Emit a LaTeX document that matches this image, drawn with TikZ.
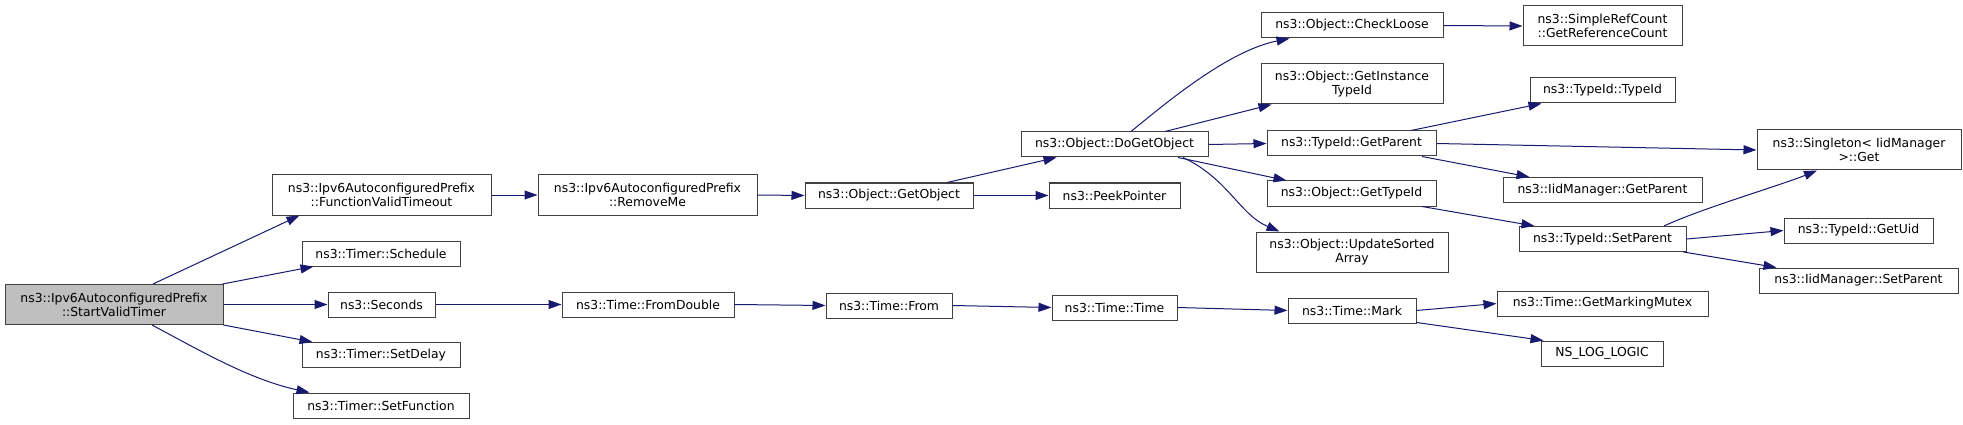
\documentclass[tikz,border=0pt]{standalone}
\usepackage{fontspec}
\setmainfont{DejaVu Sans}
\usetikzlibrary{arrows.meta}
\definecolor{edgec}{HTML}{191970}
\definecolor{bord}{HTML}{404040}
\definecolor{rootfill}{HTML}{BFBFBF}
\begin{document}
\begin{tikzpicture}[x=1pt,y=-1pt,
  box/.style={draw=bord, line width=1pt, fill=white, inner sep=0pt, align=center,
    font=\fontsize{12.4}{14}\selectfont, text=black, minimum height=25pt},
  tall/.style={minimum height=40pt},
  rootbox/.style={box, fill=rootfill},
  call/.style={draw=edgec, line width=1pt, -{Triangle[length=13pt,width=9pt]}}]
\fill[white] (0,0) rectangle (1963,425);
\useasboundingbox (0,0) rectangle (1963,425);

% column 0
\node[rootbox, tall, minimum width=218pt] (root) at (114,304.5) {ns3::Ipv6AutoconfiguredPrefix\\::StartValidTimer};
% column 1
\node[box, tall, minimum width=219pt] (fvt) at (381.5,195) {ns3::Ipv6AutoconfiguredPrefix\\::FunctionValidTimeout};
\node[box, minimum width=158pt] (sched) at (381,253.5) {ns3::Timer::Schedule};
\node[box, minimum width=107pt] (seconds) at (381.5,304.5) {ns3::Seconds};
\node[box, minimum width=158pt] (setdelay) at (381,355) {ns3::Timer::SetDelay};
\node[box, minimum width=176pt] (setfunc) at (381,405.5) {ns3::Timer::SetFunction};
% column 2
\node[box, tall, minimum width=219pt] (removeme) at (647.5,195) {ns3::Ipv6AutoconfiguredPrefix\\::RemoveMe};
\node[box, minimum width=172pt] (fromdouble) at (648,304.5) {ns3::Time::FromDouble};
% column 3
\node[box, minimum width=168pt] (getobject) at (889,195.5) {ns3::Object::GetObject};
\node[box, minimum width=126pt] (from) at (889,305.5) {ns3::Time::From};
% column 4
\node[box, minimum width=187pt] (dogetobject) at (1114.5,144.5) {ns3::Object::DoGetObject};
\node[box, minimum width=131pt] (peek) at (1114.5,195.5) {ns3::PeekPointer};
\node[box, minimum width=125pt] (ttime) at (1114.5,307.5) {ns3::Time::Time};
% column 5
\node[box, minimum width=182pt] (checkloose) at (1352,25.5) {ns3::Object::CheckLoose};
\node[box, tall, minimum width=182pt] (instance) at (1352,84) {ns3::Object::GetInstance\\TypeId};
\node[box, minimum width=169pt] (tgetparent) at (1351.5,143.5) {ns3::TypeId::GetParent};
\node[box, minimum width=169pt] (ogettypeid) at (1351.5,193.5) {ns3::Object::GetTypeId};
\node[box, tall, minimum width=192pt] (update) at (1352,252) {ns3::Object::UpdateSorted\\Array};
\node[box, minimum width=128pt] (mark) at (1352,310.5) {ns3::Time::Mark};
% column 6
\node[box, tall, minimum width=159pt] (simpleref) at (1602.5,26) {ns3::SimpleRefCount\\::GetReferenceCount};
\node[box, minimum width=145pt] (typeidtypeid) at (1602.5,90.5) {ns3::TypeId::TypeId};
\node[box, minimum width=199pt] (iidgetparent) at (1602.5,190) {ns3::IidManager::GetParent};
\node[box, minimum width=167pt] (setparent) at (1602.5,239) {ns3::TypeId::SetParent};
\node[box, minimum width=211pt] (mutex) at (1602.5,303.5) {ns3::Time::GetMarkingMutex};
\node[box, minimum width=122pt] (nslog) at (1602,353.5) {NS\_LOG\_LOGIC};
% column 7
\node[box, tall, minimum width=204pt] (singleton) at (1859,150) {ns3::Singleton< IidManager\\ >::Get};
\node[box, minimum width=149pt] (getuid) at (1858.5,230.5) {ns3::TypeId::GetUid};
\node[box, minimum width=199pt] (iidsetparent) at (1858.5,280.5) {ns3::IidManager::SetParent};

% edges from root
\draw[call] ([xshift=39pt]root.north) -- ([xshift=28pt]fvt.south west);
\draw[call] ([xshift=-1pt]root.north east) -- ([xshift=12pt]sched.south west);
\draw[call] (root.east) -- (seconds.west);
\draw[call] (root.south east) -- ([xshift=11pt]setdelay.north west);
\draw[call] ([xshift=38pt]root.south) .. controls +(47,25) and +(-60,-13) .. ([xshift=17pt]setfunc.north west);
% chain
\draw[call] (fvt.east) -- (removeme.west);
\draw[call] (removeme.east) -- (getobject.west);
\draw[call] ([xshift=58pt]getobject.north) -- ([xshift=36pt]dogetobject.south west);
\draw[call] (getobject.east) -- (peek.west);
\draw[call] (seconds.east) -- (fromdouble.west);
\draw[call] (fromdouble.east) -- (from.west);
\draw[call] (from.east) -- (ttime.west);
\draw[call] (ttime.east) -- (mark.west);
\draw[call] (mark.east) -- (mutex.west);
\draw[call] ([yshift=1pt]mark.south east) -- ([xshift=3pt]nslog.north west);
% from DoGetObject
\draw[call] ([xshift=16.5pt]dogetobject.north) .. controls +(39,-32) and +(-60,12) .. ([xshift=29pt]checkloose.south west);
\draw[call] ([xshift=50.5pt]dogetobject.north) -- ([xshift=11pt]instance.south west);
\draw[call] (dogetobject.east) -- (tgetparent.west);
\draw[call] ([xshift=63.5pt]dogetobject.south) -- ([xshift=20pt]ogettypeid.north west);
\draw[call] ([xshift=68.5pt]dogetobject.south) .. controls +(45,21) and +(-40,-17) .. ([xshift=24pt]update.north west);
% column 5 -> 6/7
\draw[call] (checkloose.east) -- (simpleref.west);
\draw[call] ([xshift=59.5pt]tgetparent.north) -- ([xshift=12pt]typeidtypeid.south west);
\draw[call] (tgetparent.east) -- (singleton.west);
\draw[call] ([xshift=70.5pt]tgetparent.south) -- ([xshift=27pt]iidgetparent.north west);
\draw[call] ([xshift=70.5pt]ogettypeid.south) -- ([xshift=16pt]setparent.north west);
% from SetParent
\draw[call] ([xshift=61.5pt]setparent.north) .. controls +(36,-17) and +(-37,15) .. ([xshift=-42pt]singleton.south);
\draw[call] (setparent.east) -- (getuid.west);
\draw[call] ([xshift=-3pt]setparent.south east) -- ([xshift=18pt]iidsetparent.north west);
\end{tikzpicture}
\end{document}
